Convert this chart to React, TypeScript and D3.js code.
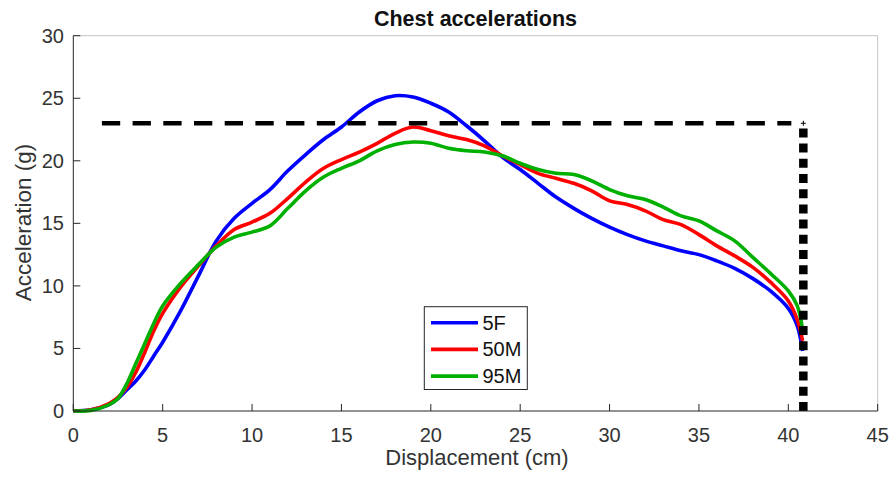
import * as d3 from "d3";

const displacement = [
  0, 1, 2, 2.5, 3, 3.5, 4, 4.5, 5, 6, 7, 8, 9, 10, 11, 12, 13, 14, 15, 16, 17,
  18, 19, 20, 21, 22, 23, 24, 25, 26, 27, 28, 29, 30, 31, 32, 33, 34, 35, 36,
  37, 38, 39, 40, 40.5, 40.8,
];
const accel5F = [
  0, 0.1, 0.5, 1.0, 1.7, 2.4, 3.3, 4.4, 5.5, 8.0, 10.8, 13.6, 15.4, 16.6,
  17.7, 19.2, 20.5, 21.7, 22.7, 23.9, 24.8, 25.2, 25.1, 24.6, 23.9, 22.8, 21.6,
  20.3, 19.3, 18.2, 17.1, 16.2, 15.4, 14.7, 14.1, 13.6, 13.2, 12.8, 12.5, 12.0,
  11.4, 10.6, 9.6, 8.2, 6.8, 4.8,
];
const accel50M = [
  0, 0.1, 0.6, 1.1, 1.9, 3.1, 4.7, 6.4, 7.8, 9.9, 11.6, 13.2, 14.5, 15.1,
  15.8, 17.0, 18.3, 19.4, 20.1, 20.7, 21.4, 22.2, 22.7, 22.4, 22.0, 21.7, 21.2,
  20.4, 19.7, 19.0, 18.6, 18.2, 17.6, 16.8, 16.5, 16.0, 15.3, 14.9, 14.1, 13.2,
  12.4, 11.5, 10.3, 8.8, 7.3, 5.6,
];
const accel95M = [
  0, 0.05, 0.5, 1.0, 2.2, 3.8, 5.4, 7.0, 8.4, 10.2, 11.7, 13.1, 13.9, 14.3,
  14.8, 16.2, 17.6, 18.7, 19.4, 20.0, 20.8, 21.3, 21.5, 21.4, 21.0, 20.8, 20.7,
  20.4, 19.8, 19.3, 19.0, 18.9, 18.4, 17.7, 17.2, 16.9, 16.3, 15.6, 15.2, 14.4,
  13.6, 12.3, 11.0, 9.6, 8.4, 6.5,
];
const seriesNames = ["5F", "50M", "95M"];
const seriesColors = ["#0000ff", "#ff0000", "#00b000"];
const xTicks = [0, 5, 10, 15, 20, 25, 30, 35, 40, 45];
const yTicks = [0, 5, 10, 15, 20, 25, 30];
// limit lines
const limitAccel = 23;
const limitStart = 1.6;
const limitDisp = 40.84;

const W = 893;
const H = 480;
const m = { left: 73.3, right: 877.7, top: 35.7, bottom: 411 };
const axisColor = "#262626";
const font = "'Liberation Sans', Arial, Helvetica, sans-serif";

export default function App() {
  const x = d3.scaleLinear().domain([0, 45]).range([m.left, m.right]);
  const y = d3.scaleLinear().domain([0, 30]).range([m.bottom, m.top]);

  const line = d3
    .line<number>()
    .curve(d3.curveCatmullRom.alpha(0.5))
    .x((_, i) => x(displacement[i]))
    .y((d) => y(d));

  const series = [accel5F, accel50M, accel95M];

  return (
    <svg
      width={W}
      height={H}
      style={{ position: "absolute", left: 0, top: 0, background: "#fff" }}
      fontFamily={font}
    >
      {/* frame */}
      <line x1={m.left} x2={m.right} y1={m.top} y2={m.top} stroke="#c4c4c4" />
      <line x1={m.right} x2={m.right} y1={m.top} y2={m.bottom} stroke="#c4c4c4" />

      {/* title */}
      <text
        x={(m.left + m.right) / 2}
        y={26}
        textAnchor="middle"
        fontWeight="bold"
        fontSize={21.5}
        fill="#111"
      >
        Chest accelerations
      </text>

      {/* curves */}
      {series.map((s, i) => (
        <path
          key={seriesNames[i]}
          d={line(s) ?? ""}
          fill="none"
          stroke={seriesColors[i]}
          strokeWidth={3.6}
        />
      ))}

      {/* limit lines */}
      <line
        x1={x(limitStart)}
        x2={x(limitDisp) - 12}
        y1={y(limitAccel)}
        y2={y(limitAccel)}
        stroke="#000"
        strokeWidth={4.3}
        strokeDasharray="18.3 12.4"
      />
      <line
        x1={x(limitDisp)}
        x2={x(limitDisp)}
        y1={y(0)}
        y2={y(limitAccel) + 5}
        stroke="#000"
        strokeWidth={8.5}
        strokeDasharray="9 6.2"
      />
      <g stroke="#000" strokeWidth={1}>
        <line x1={x(limitDisp) - 2.5} x2={x(limitDisp) + 2.5} y1={y(limitAccel)} y2={y(limitAccel)} />
        <line x1={x(limitDisp)} x2={x(limitDisp)} y1={y(limitAccel) - 2.5} y2={y(limitAccel) + 2.5} />
      </g>

      {/* axes */}
      <line x1={m.left} x2={m.right} y1={m.bottom} y2={m.bottom} stroke={axisColor} />
      <line x1={m.left} x2={m.left} y1={m.top} y2={m.bottom} stroke={axisColor} />
      {xTicks.map((t) => (
        <g key={"x" + t}>
          <line x1={x(t)} x2={x(t)} y1={m.bottom} y2={m.bottom - 7} stroke={axisColor} />
          <text x={x(t)} y={442} textAnchor="middle" fontSize={20} fill="#333">
            {t}
          </text>
        </g>
      ))}
      {yTicks.map((t) => (
        <g key={"y" + t}>
          <line x1={m.left} x2={m.left + 7} y1={y(t)} y2={y(t)} stroke={axisColor} />
          <text x={64} y={y(t) + 7} textAnchor="end" fontSize={20} fill="#333">
            {t}
          </text>
        </g>
      ))}

      {/* axis labels */}
      <text x={477} y={465} textAnchor="middle" fontSize={22} fill="#333">
        Displacement (cm)
      </text>
      <text
        transform={`translate(31, 222.5) rotate(-90)`}
        textAnchor="middle"
        fontSize={22.5}
        fill="#333"
      >
        Acceleration (g)
      </text>

      {/* legend */}
      <rect x={424.3} y={306.7} width={103} height={82.8} fill="#fff" stroke={axisColor} />
      {seriesNames.map((n, i) => {
        const ly = 322.7 + i * 26.7;
        return (
          <g key={"lg" + n}>
            <line x1={431} x2={478} y1={ly} y2={ly} stroke={seriesColors[i]} strokeWidth={3.6} />
            <text x={482.5} y={ly + 7} fontSize={20} fill="#111">
              {n}
            </text>
          </g>
        );
      })}
    </svg>
  );
}
